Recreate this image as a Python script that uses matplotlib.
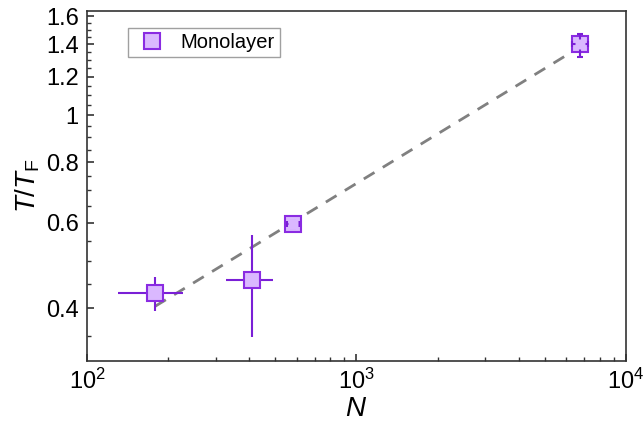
import numpy as np
import matplotlib
matplotlib.use("Agg")
import matplotlib.pyplot as plt
from matplotlib.lines import Line2D
from matplotlib.ticker import FixedLocator, NullFormatter, FixedFormatter, LogLocator

plt.rcParams["font.family"] = ["Liberation Sans", "DejaVu Sans"]
plt.rcParams["mathtext.fontset"] = "custom"
plt.rcParams["mathtext.rm"] = "Liberation Sans"
plt.rcParams["mathtext.it"] = "Liberation Sans:italic"

# Monolayer measurements
atom_number = [179, 408, 583, 6745]
temperature = [0.430, 0.4575, 0.596, 1.401]
t_err_low = [0.035, 0.109, 0.010, 0.080]
t_err_high = [0.035, 0.109, 0.010, 0.067]

# lower / upper bound of N
n_lower = [130.6, 327, 553, 6300]
n_upper = [226.5, 488.6, 614, 7230]

# power-law fit T/T_F = A * N^b
fit_prefactor = 0.0696
fit_exponent = 0.339
fit_range = (179, 6745)

y_major = [0.4, 0.6, 0.8, 1.0, 1.2, 1.4, 1.6]
y_major_labels = ["0.4", "0.6", "0.8", "1", "1.2", "1.4", "1.6"]
y_minor = [0.35, 0.45, 0.5, 0.55, 0.65, 0.7, 0.75, 0.85, 0.9, 0.95,
           1.05, 1.1, 1.15, 1.25, 1.3, 1.35, 1.45, 1.5, 1.55]

edge_c = "#8a2be2"
face_c = "#dab8ff"
err_c = "#7a1fd6"

fig = plt.figure(figsize=(6.44, 4.24), dpi=100)
ax = fig.add_axes([0.1351, 0.1493, 0.972 - 0.1351, 0.9748 - 0.1493])
ax.set_xscale("log")
ax.set_yscale("log")
ax.set_xlim(100, 10000)
ax.set_ylim(0.312, 1.643)

# fit line
n_fit = np.logspace(np.log10(fit_range[0]), np.log10(fit_range[1]), 50)
ax.plot(n_fit, fit_prefactor * n_fit ** fit_exponent, color="#808080",
        lw=2.0, dashes=(4.5, 3.5), zorder=2)

x = np.array(atom_number, dtype=float)
y = np.array(temperature)
xerr = np.array([x - np.array(n_lower), np.array(n_upper) - x])
yerr = np.array([t_err_low, t_err_high])

ax.errorbar(x, y, xerr=xerr, yerr=yerr, fmt="none", ecolor=err_c,
            elinewidth=1.5, capsize=0, zorder=3)
ax.plot(x, y, ls="none", marker="s", ms=12, mfc=face_c, mec=edge_c,
        mew=1.5, zorder=4)

# small error bars sit inside the marker: show them over the face,
# leaving the centre clear
small = [2, 3]
ax.errorbar(x[small], y[small], xerr=xerr[:, small], yerr=yerr[:, small],
            fmt="none", ecolor=err_c, elinewidth=1.5, capsize=2.5,
            capthick=1.5, zorder=5)
ax.plot(x[small], y[small], ls="none", marker="s", ms=6.5, mfc=face_c,
        mec="none", zorder=6)

# ticks
ax.xaxis.set_major_locator(LogLocator(base=10, numticks=10))
ax.xaxis.set_minor_locator(LogLocator(base=10, subs=np.arange(2, 10), numticks=10))
ax.xaxis.set_minor_formatter(NullFormatter())
ax.yaxis.set_major_locator(FixedLocator(y_major))
ax.yaxis.set_major_formatter(FixedFormatter(y_major_labels))
ax.yaxis.set_minor_locator(FixedLocator(y_minor))
ax.yaxis.set_minor_formatter(NullFormatter())

ax.tick_params(which="both", direction="in", top=False, right=False,
               colors="#333333", labelcolor="black")
ax.tick_params(which="major", length=5, width=1.2, labelsize=17, pad=6)
ax.tick_params(which="minor", length=3, width=1.0)
for s in ax.spines.values():
    s.set_color("#333333")
    s.set_linewidth(1.2)

ax.set_xlabel("$N$", fontsize=20, labelpad=1)
ax.set_ylabel("$T/T_\\mathrm{F}$", fontsize=20, labelpad=3)

handle = Line2D([], [], ls="none", marker="s", ms=12, mfc=face_c,
                mec=edge_c, mew=1.5)
leg = ax.legend([handle], ["Monolayer"], loc="upper left",
                bbox_to_anchor=(0.076, 0.951), fontsize=14.5, frameon=True,
                fancybox=False, edgecolor="#888888", borderpad=0.25,
                handletextpad=0.45, handlelength=1.9, borderaxespad=0)
leg.get_frame().set_linewidth(1.0)

fig.savefig("out.png", dpi=100)
